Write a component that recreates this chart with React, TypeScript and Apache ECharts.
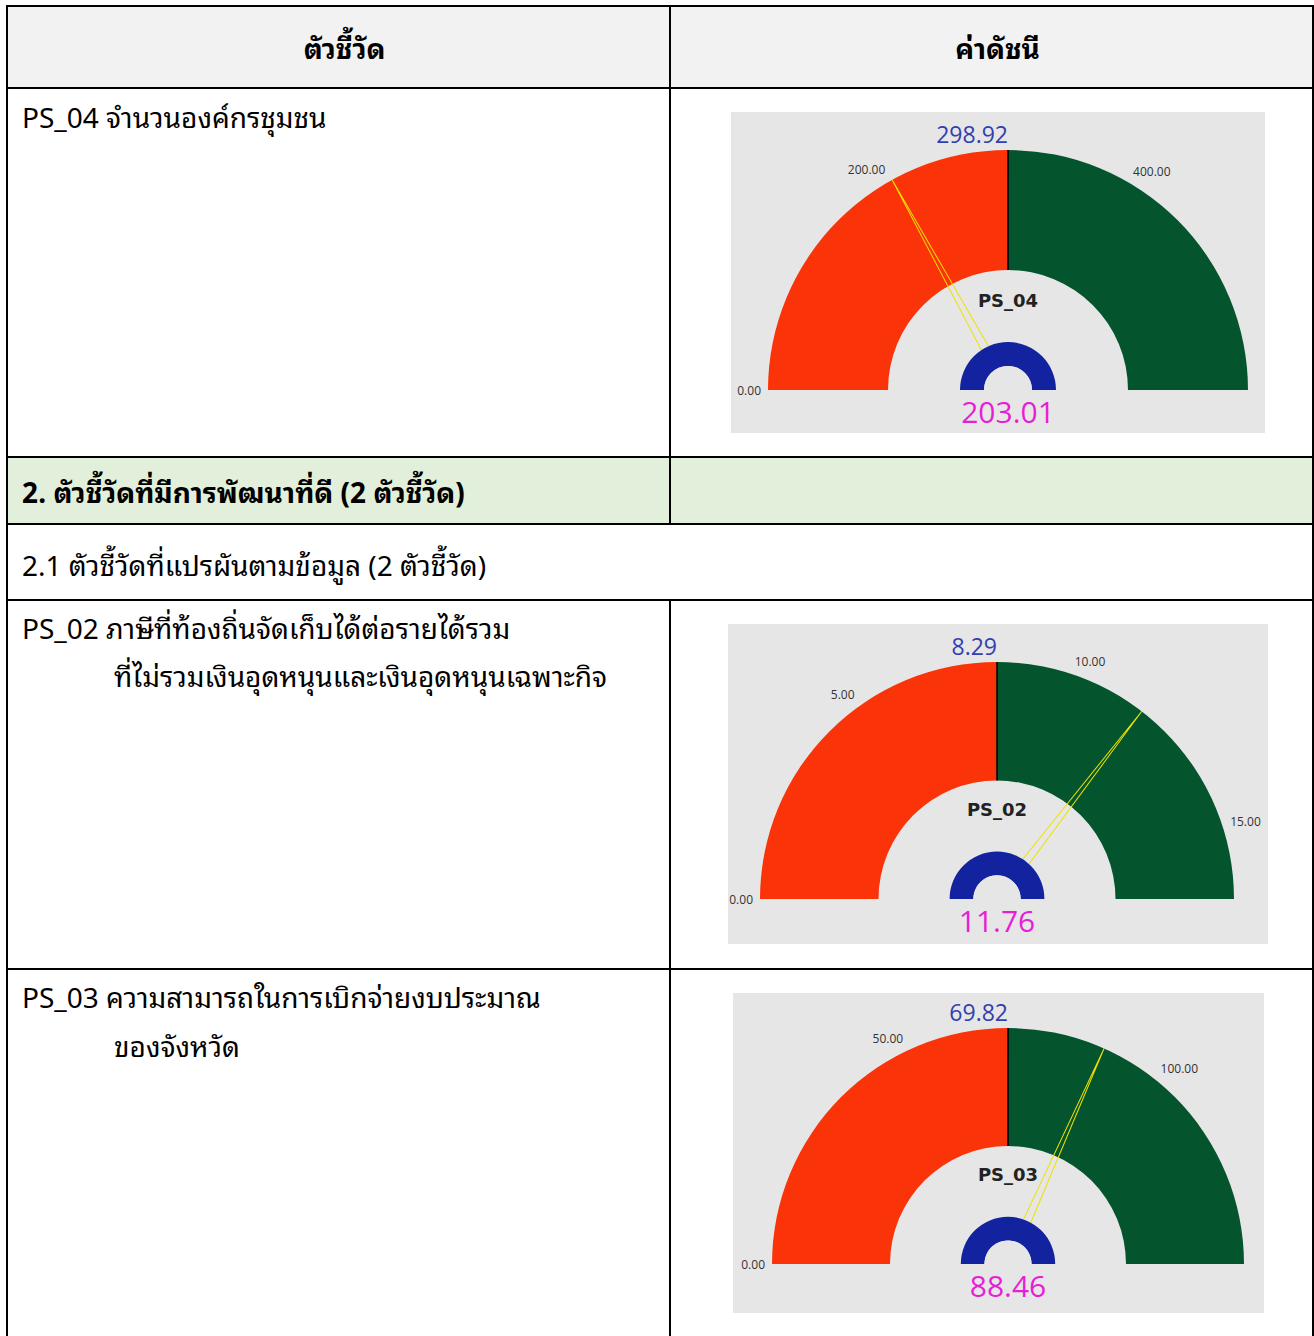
import React, { useEffect, useRef } from 'react';
import * as echarts from 'echarts';

// ---------- data ----------
const gaugeCodes = ['PS_04', 'PS_02', 'PS_03'];
const targetValues = [298.92, 8.29, 69.82];
const actualValues = [203.01, 11.76, 88.46];
const tickSteps = [200, 5, 50];

const headerLabels = ['ตัวชี้วัด', 'ค่าดัชนี'];
const sectionTitle = '2. ตัวชี้วัดที่มีการพัฒนาที่ดี (2 ตัวชี้วัด)';
const subsectionTitle = '2.1 ตัวชี้วัดที่แปรผันตามข้อมูล (2 ตัวชี้วัด)';
const indicatorLines = [
  ['PS_04 จำนวนองค์กรชุมชน'],
  ['PS_02 ภาษีที่ท้องถิ่นจัดเก็บได้ต่อรายได้รวม', 'ที่ไม่รวมเงินอุดหนุนและเงินอุดหนุนเฉพาะกิจ'],
  ['PS_03 ความสามารถในการเบิกจ่ายงบประมาณ', 'ของจังหวัด'],
];

// ---------- layout ----------
const W = 1314;
const H = 1336;
const TL = 7; // table left
const TR = 1313; // table right
const MID = 670; // column divider
const Y_TOP = 6;
const Y_HEAD = 88;
const Y_ROW1 = 457;
const Y_SEC = 524;
const Y_SUB = 600;
const Y_ROW4 = 969;

const panels = [
  { x: 731, y: 112, w: 534, h: 321, cx: 1008, cy: 390, r: 240 },
  { x: 728, y: 624, w: 540, h: 320, cx: 997, cy: 899, r: 237 },
  { x: 733, y: 993, w: 531, h: 320, cx: 1008, cy: 1264, r: 236 },
];
const indicatorTextY = [[115, null], [626, 674], [995, 1044]];

const THAI = "'Noto Sans Thai Looped', 'Noto Sans Thai', 'Noto Sans', 'DejaVu Sans', sans-serif";
const NUM = "'Open Sans', 'Noto Sans', sans-serif";

const RED = '#FA3308';
const GREEN = '#04552E';
const BLUE = '#13239F';
const PANEL = '#E6E6E6';
const NEEDLE = '#F0E000';
const MAGENTA = '#E61ED6';
const TARGET_BLUE = '#3040B0';

const hidden = {
  axisTick: { show: false },
  splitLine: { show: false },
  axisLabel: { show: false },
  pointer: { show: false },
  anchor: { show: false },
  title: { show: false },
};

function buildOption() {
  const graphic: any[] = [];
  // backgrounds
  graphic.push({ type: 'rect', z: 0, shape: { x: TL, y: Y_TOP, width: TR - TL, height: Y_HEAD - Y_TOP }, style: { fill: '#F2F2F2' } });
  graphic.push({ type: 'rect', z: 0, shape: { x: TL, y: Y_ROW1, width: TR - TL, height: Y_SEC - Y_ROW1 }, style: { fill: '#E2EFDA' } });
  panels.forEach((p) => {
    graphic.push({ type: 'rect', z: 0, shape: { x: p.x, y: p.y, width: p.w, height: p.h }, style: { fill: PANEL } });
  });
  // borders
  const line = (x1: number, y1: number, x2: number, y2: number) => ({
    type: 'line', z: 50, shape: { x1, y1, x2, y2 }, style: { stroke: '#000', lineWidth: 2 },
  });
  graphic.push(line(TL - 1, Y_TOP, TR + 1, Y_TOP));
  [Y_HEAD, Y_ROW1, Y_SEC, Y_SUB, Y_ROW4].forEach((y) => graphic.push(line(TL - 1, y, TR + 1, y)));
  graphic.push(line(TL, Y_TOP, TL, H));
  graphic.push(line(TR, Y_TOP, TR, H));
  graphic.push(line(MID, Y_TOP, MID, Y_SEC));
  graphic.push(line(MID, Y_SUB, MID, H));

  // texts
  const txt = (text: string, x: number, y: number, size: number, bold: boolean, align = 'left') => ({
    type: 'text', z: 20, x, y,
    style: { text, fill: '#000', font: `${bold ? 'bold ' : ''}${size}px ${THAI}`, textAlign: align, textVerticalAlign: 'middle' },
  });
  graphic.push(txt(headerLabels[0], (TL + MID) / 2 + 6, 46, 28, true, 'center'));
  graphic.push(txt(headerLabels[1], (MID + TR) / 2 + 6, 46, 28, true, 'center'));
  graphic.push(txt(sectionTitle, 22, 490, 28, true));
  graphic.push(txt(subsectionTitle, 22, 563, 28, false));
  indicatorLines.forEach((lines, i) => {
    lines.forEach((t, j) => {
      const y = indicatorTextY[i][j] as number;
      graphic.push(txt(t, j === 0 ? 22 : 114, y, 28, false));
    });
  });

  // target labels (right aligned at gauge centre)
  panels.forEach((p, i) => {
    graphic.push({
      type: 'text', z: 20, x: p.cx, y: p.cy - p.r - 16,
      style: { text: targetValues[i].toFixed(2), fill: TARGET_BLUE, font: `23px ${NUM}`, textAlign: 'right', textVerticalAlign: 'middle' },
    });
  });

  const polar: any[] = [];
  const angleAxis: any[] = [];
  const radiusAxis: any[] = [];
  const series: any[] = [];

  panels.forEach((p, i) => {
    const maxVal = targetValues[i] * 2;
    polar.push({ center: [p.cx, p.cy], radius: p.r });
    angleAxis.push({
      polarIndex: i,
      type: 'value',
      min: 0,
      max: maxVal * 2,
      interval: tickSteps[i],
      startAngle: 180,
      clockwise: true,
      axisLine: { show: false },
      axisTick: { show: false },
      splitLine: { show: false },
      axisLabel: {
        margin: 7,
        fontSize: 12,
        fontFamily: NUM,
        color: '#333',
        formatter: (v: number) => (v <= maxVal + 1e-9 ? v.toFixed(2) : ''),
      },
    });
    radiusAxis.push({ polarIndex: i, type: 'value', show: false, min: 0, max: 1 });

    // main gauge: red / green bands + needle
    series.push({
      type: 'gauge',
      center: [p.cx, p.cy],
      radius: p.r,
      min: 0,
      max: maxVal,
      startAngle: 180,
      endAngle: 0,
      axisLine: { lineStyle: { width: p.r / 2, color: [[0.5, RED], [1, GREEN]] } },
      axisTick: { show: false },
      splitLine: { show: false },
      axisLabel: { show: false },
      pointer: {
        icon: 'path://M5,0 L0,100 L10,100 Z',
        length: '100%',
        width: 10,
        itemStyle: { color: 'rgba(0,0,0,0)', borderColor: NEEDLE, borderWidth: 1 },
      },
      anchor: { show: false },
      title: { show: true, offsetCenter: [0, -90], fontSize: 18, fontWeight: 'bold', color: '#222', fontFamily: "'DejaVu Sans', sans-serif" },
      detail: { show: false },
      data: [{ value: actualValues[i], name: gaugeCodes[i] }],
    });

    // divider line at target (top)
    series.push({
      type: 'gauge',
      center: [p.cx, p.cy],
      radius: p.r,
      min: 0,
      max: 1,
      startAngle: 90,
      endAngle: 89.99,
      splitNumber: 1,
      axisLine: { show: false, lineStyle: { width: 0 } },
      ...hidden,
      splitLine: { show: true, distance: 0, length: p.r / 2, lineStyle: { color: '#000', width: 1 } },
      detail: { show: false },
      data: [{ value: 0 }],
    });

    // blue hub ring
    series.push({
      type: 'gauge',
      z: 4,
      center: [p.cx, p.cy],
      radius: p.r * 0.2,
      startAngle: 180,
      endAngle: 0,
      axisLine: { lineStyle: { width: p.r * 0.1, color: [[1, BLUE]] } },
      ...hidden,
      detail: { show: false },
      data: [{ value: 0 }],
    });

    // hub hole (full disc) + actual value text
    series.push({
      type: 'gauge',
      z: 4,
      center: [p.cx, p.cy],
      radius: p.r * 0.1,
      min: 0,
      max: maxVal,
      startAngle: 90,
      endAngle: -270,
      axisLine: { lineStyle: { width: p.r * 0.1, color: [[1, PANEL]] } },
      ...hidden,
      detail: {
        show: true,
        offsetCenter: [0, 21],
        fontSize: 30,
        fontWeight: 'normal',
        color: MAGENTA,
        fontFamily: NUM,
        formatter: (v: number) => v.toFixed(2),
      },
      data: [{ value: actualValues[i] }],
    });
  });

  return {
    animation: false,
    backgroundColor: '#fff',
    polar,
    angleAxis,
    radiusAxis,
    graphic: { elements: graphic },
    series,
  };
}

export default function App() {
  const ref = useRef<HTMLDivElement>(null);
  useEffect(() => {
    if (!ref.current) return;
    const chart = echarts.init(ref.current, null, { renderer: 'svg' });
    chart.setOption(buildOption() as any);
    return () => chart.dispose();
  }, []);
  return <div ref={ref} style={{ position: 'absolute', left: 0, top: 0, width: W, height: H }} />;
}
